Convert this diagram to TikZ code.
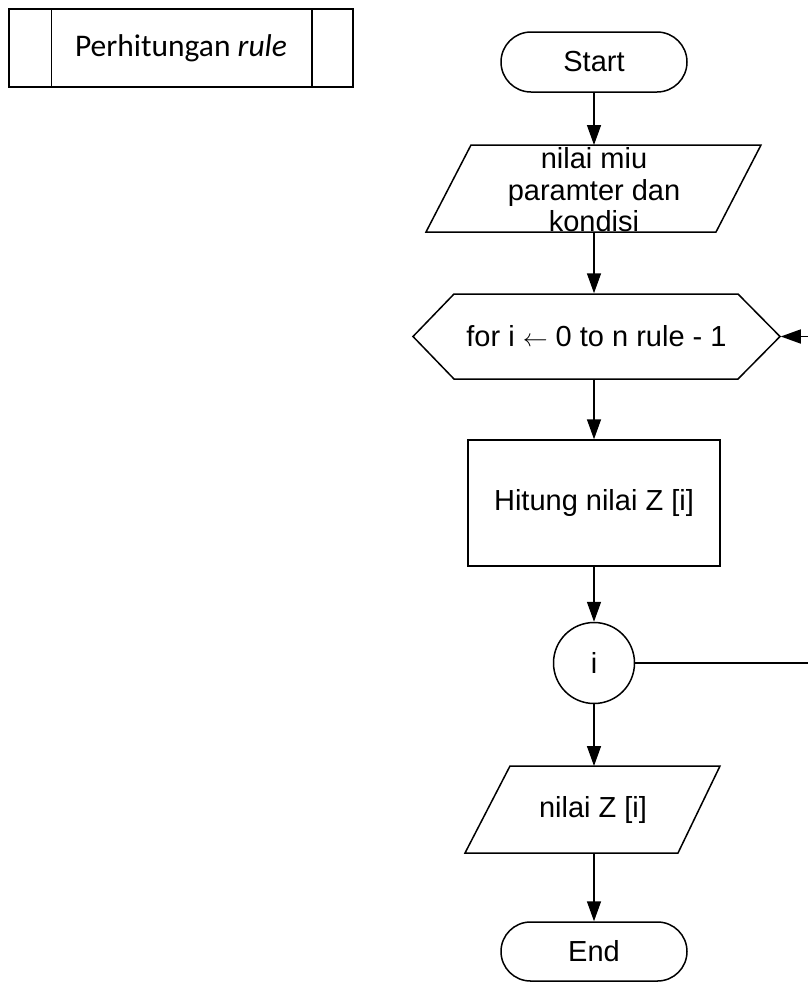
\documentclass[tikz,border=0pt]{standalone}
\usepackage{fontspec}
\setmainfont{Liberation Sans}
\newfontfamily\calib{Carlito}
\usetikzlibrary{arrows.meta,shapes.misc}
\begin{document}
\begin{tikzpicture}[x=1pt,y=1pt,
  line width=1.5pt,
  every node/.style={font=\fontsize{29}{31.5}\selectfont, inner sep=0pt},
  term/.style={draw, rounded rectangle, minimum width=186, minimum height=60},
  ghost/.style={align=center},
  flow/.style={-{Triangle[length=20pt,width=14pt]}}]
\useasboundingbox (0,0) rectangle (808,-983);
\clip (0,0) rectangle (808,-983);
% title box
\node[draw, minimum width=344, minimum height=78, font=\calib\fontsize{31.5}{34}\selectfont] (title) at (181,-48) {Perhitungan \textit{rule}};
\draw ([xshift=43]title.north west) -- ([xshift=43]title.south west);
\draw ([xshift=-42]title.north east) -- ([xshift=-42]title.south east);
% start
\node[term] (start) at (594,-62) {Start};
% input parallelogram
\draw (471,-145) -- (761,-145) -- (716,-232) -- (426,-232) -- cycle;
\node[ghost, minimum width=245, minimum height=87] (inp) at (594,-190) {nilai miu\\paramter dan\\kondisi};
% hexagon
\draw (413,-336.5) -- (454,-294) -- (738,-294) -- (780,-336.5) -- (738,-379) -- (454,-379) -- cycle;
\node[minimum width=367, minimum height=85] (loop) at (596.5,-336.5) {for i $\leftarrow$ 0 to n rule - 1};
% process
\node[draw, minimum width=252, minimum height=126] (proc) at (594,-503) {Hitung nilai Z [i]};
% connector circle
\node[draw, circle, minimum size=81] (con) at (594,-663) {i};
% output parallelogram
\draw (510,-766) -- (720,-766) -- (678,-853) -- (465,-853) -- cycle;
\node[minimum width=210, minimum height=87] (out) at (593,-809.5) {nilai Z [i]};
% end
\node[term, minimum height=59] (end) at (594,-951.5) {End};
% connectors
\draw[flow] (start.south) -- (start.south |- 0,-145);
\draw[flow] (start.south |- 0,-232) -- (start.south |- loop.north);
\draw[flow] (inp.south |- loop.south) -- (inp.south |- proc.north);
\draw[flow] (proc.south) -- (con.north);
\draw[flow] (con.south) -- (con.south |- 0,-766);
\draw[flow] (con.south |- 0,-853) -- (end.north);
\coordinate (r1) at (814,-663);
\coordinate (r2) at (814,-336.5);
\draw[flow] (con.east) -- (r1) -- (r2) -- (loop.east);
\end{tikzpicture}
\end{document}
